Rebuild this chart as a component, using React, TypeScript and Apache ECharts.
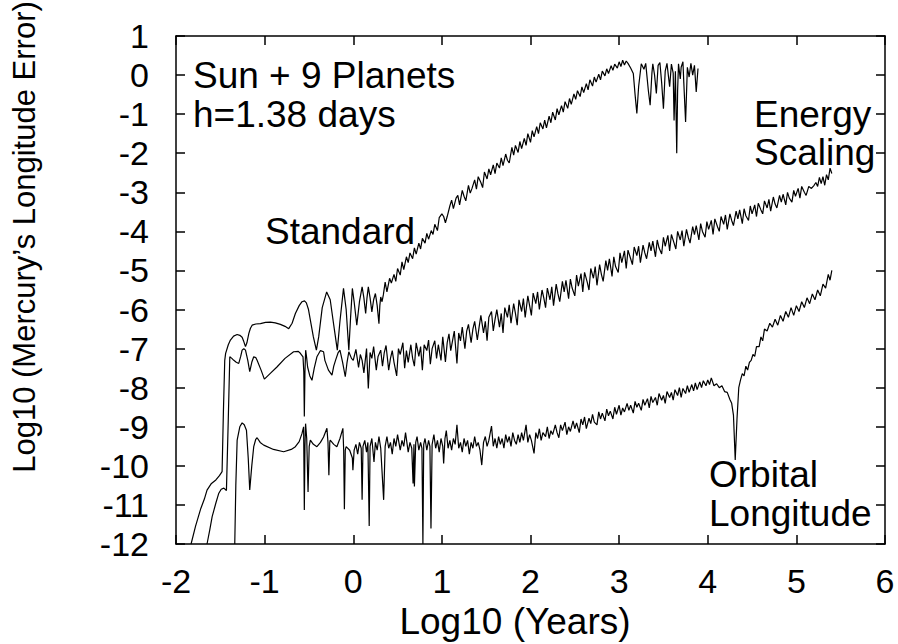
import React, { useEffect, useRef } from "react";
import * as echarts from "echarts";

const FONT = '"Liberation Sans", Arial, Helvetica, sans-serif';

const xRange = [-2, 6];
const yRange = [-12, 1];

const standard: [number, number][] = [
  [-1.83, -12.0], [-1.78, -11.55], [-1.72, -11.09], [-1.68, -10.85], [-1.65, -10.62], [-1.6, -10.45],
  [-1.55, -10.36], [-1.51, -10.25], [-1.48, -10.15], [-1.465, -8.6], [-1.45, -7.3], [-1.44, -7.12],
  [-1.41, -6.9], [-1.386, -6.78], [-1.35, -6.68], [-1.31, -6.64], [-1.28, -6.66], [-1.254, -6.71],
  [-1.235, -6.82], [-1.216, -6.95], [-1.2, -6.85], [-1.178, -6.61], [-1.16, -6.48], [-1.141, -6.4],
  [-1.1, -6.37], [-1.047, -6.36], [-0.99, -6.33], [-0.935, -6.32], [-0.88, -6.34], [-0.822, -6.38],
  [-0.77, -6.43], [-0.728, -6.49], [-0.69, -6.35], [-0.653, -6.1], [-0.61, -5.9], [-0.578, -5.8],
  [-0.55, -5.78], [-0.529, -5.83], [-0.505, -6.0], [-0.484, -6.27], [-0.45, -6.7], [-0.416, -7.04],
  [-0.39, -6.7], [-0.35, -5.95], [-0.3, -5.55], [-0.26, -5.75], [-0.22, -6.4], [-0.18, -7.04],
  [-0.15, -6.3], [-0.11, -5.46], [-0.08, -6.0], [-0.05, -7.04], [-0.03, -6.2], [-0.01, -5.46],
  [0.01, -5.8], [0.04, -6.4], [0.07, -5.8], [0.1, -5.42], [0.12, -5.7], [0.14, -6.1], [0.155, -5.7],
  [0.17, -5.42], [0.19, -5.7], [0.21, -6.06], [0.23, -5.75], [0.25, -5.59], [0.27, -5.9], [0.29, -6.36],
  [0.3, -5.9], [0.31, -5.68], [0.325, -5.8], [0.34, -5.62], [0.36, -5.3], [0.38, -5.55], [0.41, -5.2],
  [0.43, -5.32], [0.46, -5.1], [0.48, -5.28], [0.5, -4.95], [0.53, -5.12], [0.55, -4.78], [0.57, -4.98],
  [0.6, -4.65], [0.62, -4.8], [0.64, -4.55], [0.67, -4.7], [0.69, -4.42], [0.71, -4.58], [0.74, -4.3],
  [0.76, -4.45], [0.78, -4.18], [0.81, -4.3], [0.83, -4.05], [0.85, -4.2], [0.88, -3.98], [0.9, -4.08],
  [0.92, -3.82], [0.95, -3.98], [0.97, -3.65], [1.0, -3.55], [1.02, -3.62], [1.04, -3.78], [1.06, -3.62],
  [1.09, -3.35], [1.11, -3.2], [1.13, -3.42], [1.16, -3.15], [1.18, -3.08], [1.2, -3.32], [1.23, -2.95],
  [1.25, -3.1], [1.27, -3.22], [1.3, -2.82], [1.32, -3.02], [1.34, -2.9], [1.37, -2.68], [1.39, -2.92],
  [1.41, -2.6], [1.44, -2.75], [1.46, -2.88], [1.48, -2.48], [1.51, -2.66], [1.53, -2.4], [1.55, -2.55],
  [1.58, -2.3], [1.6, -2.52], [1.62, -2.25], [1.65, -2.38], [1.67, -2.12], [1.69, -2.32], [1.72, -2.02],
  [1.74, -2.18], [1.76, -2.25], [1.79, -1.85], [1.81, -2.05], [1.83, -1.8], [1.86, -1.98], [1.88, -1.7],
  [1.9, -1.88], [1.93, -1.62], [1.95, -1.8], [1.97, -1.5], [2.0, -1.72], [2.02, -1.42], [2.04, -1.58],
  [2.07, -1.32], [2.09, -1.5], [2.11, -1.22], [2.14, -1.38], [2.16, -1.15], [2.18, -1.35], [2.21, -1.05],
  [2.23, -1.22], [2.25, -0.95], [2.28, -1.15], [2.3, -0.86], [2.32, -1.02], [2.35, -0.78], [2.37, -0.95],
  [2.39, -0.68], [2.42, -0.85], [2.44, -0.6], [2.46, -0.75], [2.49, -0.48], [2.51, -0.62], [2.53, -0.4],
  [2.56, -0.55], [2.58, -0.3], [2.6, -0.45], [2.63, -0.22], [2.65, -0.38], [2.67, -0.12], [2.7, -0.28],
  [2.72, -0.05], [2.74, -0.18], [2.77, 0.02], [2.79, -0.12], [2.81, 0.1], [2.84, -0.02], [2.86, 0.16],
  [2.88, 0.04], [2.91, 0.24], [2.93, 0.12], [2.95, 0.28], [2.98, 0.18], [3.0, 0.34], [3.02, 0.22],
  [3.04, 0.38], [3.06, 0.26], [3.08, 0.36], [3.1, 0.3], [3.13, 0.18], [3.16, 0.04], [3.18, -0.5],
  [3.2, -0.98], [3.22, -0.3], [3.25, 0.29], [3.28, 0.15], [3.3, 0.3], [3.33, -0.4], [3.35, -0.77],
  [3.37, 0.05], [3.38, 0.29], [3.4, 0.0], [3.42, -0.47], [3.44, 0.25], [3.46, 0.32], [3.48, -0.2],
  [3.5, -0.86], [3.52, 0.1], [3.54, 0.3], [3.57, -0.3], [3.59, 0.28], [3.61, 0.05], [3.62, -1.16],
  [3.635, 0.1], [3.65, -2.0], [3.66, -0.4], [3.67, 0.29], [3.69, -0.1], [3.7, 0.2], [3.72, 0.34],
  [3.73, -0.2], [3.75, -1.2], [3.77, 0.2], [3.79, -0.05], [3.81, 0.3], [3.83, 0.0], [3.85, 0.25],
  [3.87, -0.43], [3.89, 0.17],
];

const energy: [number, number][] = [
  [-1.65, -12.0], [-1.62, -11.65], [-1.592, -11.3], [-1.55, -10.95], [-1.517, -10.7], [-1.49, -10.6],
  [-1.46, -10.57], [-1.431, -10.63], [-1.41, -8.8], [-1.393, -7.21], [-1.37, -7.25], [-1.348, -7.3],
  [-1.32, -7.35], [-1.292, -7.38], [-1.27, -7.2], [-1.254, -7.04], [-1.235, -7.0], [-1.216, -7.04],
  [-1.19, -7.3], [-1.168, -7.59], [-1.145, -7.35], [-1.123, -7.21], [-1.1, -7.23], [-1.085, -7.3],
  [-1.04, -7.55], [-1.003, -7.78], [-0.93, -7.62], [-0.861, -7.47], [-0.77, -7.25], [-0.673, -7.08],
  [-0.62, -7.07], [-0.597, -7.12], [-0.567, -7.21], [-0.558, -7.6], [-0.552, -8.74], [-0.545, -7.6],
  [-0.537, -7.04], [-0.525, -7.25], [-0.515, -7.47], [-0.49, -7.7], [-0.466, -7.81], [-0.44, -7.5],
  [-0.41, -7.21], [-0.37, -7.05], [-0.335, -7.08], [-0.32, -7.3], [-0.28, -7.55], [-0.24, -7.68],
  [-0.22, -7.45], [-0.2, -7.3], [-0.17, -7.1], [-0.15, -7.04], [-0.12, -7.35], [-0.09, -7.72],
  [-0.07, -7.35], [-0.05, -7.08], [-0.02, -7.25], [0.0, -7.3], [0.03, -7.02], [0.06, -7.48], [0.08, -7.15],
  [0.1, -7.3], [0.12, -7.62], [0.15, -7.0], [0.17, -8.02], [0.19, -7.1], [0.21, -7.25], [0.23, -6.95],
  [0.26, -7.55], [0.28, -7.2], [0.31, -7.04], [0.33, -7.45], [0.35, -7.1], [0.37, -6.92], [0.4, -7.55],
  [0.42, -7.25], [0.44, -7.05], [0.46, -7.35], [0.49, -7.7], [0.51, -7.0], [0.53, -7.15], [0.56, -6.85],
  [0.58, -7.5], [0.6, -7.05], [0.62, -7.35], [0.65, -6.9], [0.67, -7.25], [0.69, -7.45], [0.71, -6.85],
  [0.74, -7.2], [0.76, -6.95], [0.78, -7.55], [0.8, -6.9], [0.83, -7.05], [0.85, -6.78], [0.87, -7.4],
  [0.89, -7.0], [0.92, -6.8], [0.94, -7.25], [0.96, -6.9], [0.99, -7.3], [1.01, -6.7], [1.04, -7.34],
  [1.06, -6.85], [1.08, -6.62], [1.1, -7.05], [1.12, -6.8], [1.14, -6.55], [1.17, -7.38], [1.19, -6.6],
  [1.21, -6.8], [1.23, -6.45], [1.26, -7.0], [1.28, -6.55], [1.3, -6.38], [1.33, -6.85], [1.35, -6.5],
  [1.37, -6.3], [1.4, -6.78], [1.42, -6.45], [1.44, -6.15], [1.47, -6.6], [1.49, -6.3], [1.51, -6.8],
  [1.53, -6.2], [1.56, -6.05], [1.58, -6.55], [1.6, -6.25], [1.62, -6.0], [1.65, -6.45], [1.67, -6.1],
  [1.69, -6.6], [1.71, -5.95], [1.74, -6.2], [1.76, -5.88], [1.78, -6.35], [1.81, -5.85], [1.83, -6.1],
  [1.85, -6.4], [1.87, -5.75], [1.9, -6.05], [1.92, -5.72], [1.94, -6.2], [1.97, -5.65], [1.99, -5.9],
  [2.01, -6.15], [2.03, -5.58], [2.06, -5.85], [2.08, -5.55], [2.1, -6.0], [2.13, -5.5], [2.15, -5.7],
  [2.17, -5.95], [2.19, -5.45], [2.22, -5.75], [2.24, -5.42], [2.26, -5.9], [2.29, -5.35], [2.31, -5.6],
  [2.33, -5.8], [2.36, -5.28], [2.38, -5.55], [2.4, -5.25], [2.43, -5.72], [2.45, -5.22], [2.47, -5.45],
  [2.5, -5.65], [2.52, -5.12], [2.54, -5.4], [2.57, -5.08], [2.59, -5.55], [2.61, -5.05], [2.64, -5.3],
  [2.66, -5.5], [2.68, -4.95], [2.71, -5.2], [2.73, -4.9], [2.75, -5.38], [2.78, -4.85], [2.8, -5.1],
  [2.82, -5.28], [2.85, -4.75], [2.87, -5.0], [2.89, -4.7], [2.92, -5.15], [2.94, -4.65], [2.96, -4.9],
  [2.99, -5.05], [3.01, -4.55], [3.03, -4.8], [3.06, -4.5], [3.08, -4.95], [3.1, -4.48], [3.13, -4.7],
  [3.15, -4.85], [3.17, -4.4], [3.2, -4.62], [3.22, -4.38], [3.24, -4.8], [3.27, -4.35], [3.29, -4.55],
  [3.31, -4.7], [3.34, -4.28], [3.36, -4.5], [3.38, -4.25], [3.41, -4.65], [3.43, -4.22], [3.45, -4.42],
  [3.48, -4.58], [3.5, -4.15], [3.52, -4.38], [3.55, -4.1], [3.57, -4.5], [3.59, -4.08], [3.62, -4.3],
  [3.64, -4.45], [3.66, -4.0], [3.69, -4.22], [3.71, -3.98], [3.73, -4.38], [3.76, -3.95], [3.78, -4.15],
  [3.8, -4.3], [3.83, -3.88], [3.85, -4.08], [3.87, -3.85], [3.9, -4.22], [3.92, -3.8], [3.94, -4.0],
  [3.97, -4.15], [3.99, -3.75], [4.01, -3.95], [4.04, -3.72], [4.06, -4.08], [4.08, -3.68], [4.11, -3.88],
  [4.13, -4.0], [4.15, -3.62], [4.18, -3.82], [4.2, -3.58], [4.22, -3.95], [4.25, -3.55], [4.27, -3.72],
  [4.29, -3.85], [4.32, -3.48], [4.34, -3.68], [4.36, -3.45], [4.39, -3.8], [4.41, -3.42], [4.43, -3.6],
  [4.46, -3.72], [4.48, -3.35], [4.5, -3.55], [4.53, -3.32], [4.55, -3.62], [4.57, -3.28], [4.6, -3.45],
  [4.62, -3.55], [4.64, -3.22], [4.67, -3.4], [4.69, -3.18], [4.71, -3.48], [4.74, -3.12], [4.76, -3.3],
  [4.78, -3.4], [4.81, -3.08], [4.83, -3.25], [4.85, -3.05], [4.88, -3.32], [4.9, -3.0], [4.92, -3.15],
  [4.95, -3.25], [4.97, -2.95], [4.99, -3.1], [5.02, -2.9], [5.04, -3.15], [5.06, -2.85], [5.09, -3.0],
  [5.11, -3.08], [5.14, -2.85], [5.17, -2.9], [5.2, -2.82], [5.22, -2.75], [5.24, -2.85], [5.26, -2.62],
  [5.28, -2.78], [5.3, -2.6], [5.32, -2.82], [5.34, -2.55], [5.36, -2.68], [5.38, -2.38], [5.4, -2.52],
];

const orbital: [number, number][] = [
  [-1.337, -12.0], [-1.325, -10.5], [-1.31, -9.34], [-1.28, -9.0], [-1.254, -8.9], [-1.23, -8.95],
  [-1.205, -9.09], [-1.185, -9.8], [-1.168, -10.62], [-1.145, -10.0], [-1.123, -9.51], [-1.1, -9.32],
  [-1.085, -9.28], [-1.05, -9.4], [-1.01, -9.47], [-0.9, -9.58], [-0.785, -9.64], [-0.7, -9.58],
  [-0.653, -9.51], [-0.61, -9.38], [-0.578, -9.17], [-0.56, -9.0], [-0.552, -11.13], [-0.545, -9.5],
  [-0.538, -8.92], [-0.525, -9.3], [-0.51, -10.67], [-0.497, -9.5], [-0.484, -9.34], [-0.45, -9.45],
  [-0.41, -9.51], [-0.37, -9.4], [-0.335, -9.26], [-0.297, -9.04], [-0.285, -9.4], [-0.275, -10.24],
  [-0.265, -9.4], [-0.26, -9.34], [-0.22, -9.45], [-0.185, -9.51], [-0.15, -9.3], [-0.117, -9.04],
  [-0.108, -9.6], [-0.1, -11.11], [-0.09, -9.6], [-0.08, -9.51], [-0.04, -9.6], [-0.01, -9.8],
  [-0.004, -10.11], [0.01, -9.6], [0.03, -9.45], [0.05, -9.7], [0.07, -9.4], [0.09, -9.55], [0.1, -10.87],
  [0.11, -9.5], [0.13, -9.35], [0.15, -9.65], [0.165, -9.4], [0.18, -11.54], [0.19, -9.5], [0.21, -9.3],
  [0.234, -9.9], [0.25, -9.4], [0.27, -9.6], [0.29, -9.25], [0.31, -9.55], [0.343, -10.87], [0.36, -9.5],
  [0.38, -9.25], [0.4, -9.55], [0.42, -9.4], [0.44, -9.7], [0.46, -9.3], [0.48, -9.5], [0.5, -9.2],
  [0.53, -9.6], [0.55, -9.35], [0.57, -9.5], [0.59, -9.15], [0.62, -9.65], [0.64, -9.4], [0.66, -9.55],
  [0.675, -10.45], [0.685, -9.45], [0.69, -10.53], [0.705, -9.4], [0.72, -9.25], [0.74, -9.6],
  [0.76, -9.4], [0.775, -9.55], [0.786, -12.0], [0.795, -9.45], [0.81, -9.3], [0.83, -9.6], [0.85, -9.35],
  [0.865, -9.5], [0.877, -11.6], [0.89, -9.45], [0.91, -9.2], [0.93, -9.55], [0.95, -9.35], [0.97, -9.65],
  [0.99, -9.3], [1.01, -9.5], [1.02, -9.94], [1.035, -9.3], [1.05, -9.1], [1.07, -9.55], [1.09, -9.35],
  [1.11, -9.6], [1.13, -9.3], [1.15, -9.45], [1.17, -8.95], [1.19, -9.55], [1.21, -9.4], [1.23, -9.65],
  [1.25, -9.3], [1.27, -9.5], [1.29, -9.35], [1.31, -9.7], [1.33, -9.4], [1.35, -9.55], [1.37, -9.25],
  [1.39, -9.5], [1.41, -9.4], [1.43, -9.6], [1.45, -9.98], [1.47, -9.4], [1.49, -9.25], [1.51, -9.5],
  [1.53, -9.35], [1.56, -8.98], [1.58, -9.5], [1.6, -9.3], [1.62, -9.55], [1.64, -9.25], [1.66, -9.45],
  [1.68, -9.3], [1.7, -9.55], [1.72, -9.2], [1.74, -9.4], [1.76, -9.25], [1.78, -9.5], [1.8, -9.15],
  [1.82, -9.35], [1.84, -9.45], [1.86, -9.2], [1.88, -9.4], [1.9, -9.15], [1.92, -9.35], [1.95, -8.95],
  [1.97, -9.4], [1.99, -9.2], [2.01, -9.35], [2.04, -9.68], [2.06, -9.15], [2.08, -9.3], [2.1, -9.05],
  [2.12, -9.35], [2.14, -9.15], [2.17, -9.25], [2.19, -9.0], [2.21, -9.3], [2.23, -9.1], [2.25, -9.2],
  [2.28, -8.95], [2.3, -9.15], [2.32, -9.28], [2.34, -8.95], [2.36, -9.1], [2.39, -8.88], [2.41, -9.2],
  [2.43, -9.0], [2.45, -9.12], [2.48, -8.85], [2.5, -9.05], [2.52, -8.9], [2.55, -9.15], [2.57, -8.8],
  [2.59, -8.95], [2.61, -8.75], [2.63, -9.05], [2.66, -8.78], [2.68, -8.92], [2.7, -8.68], [2.72, -8.88],
  [2.75, -8.95], [2.77, -8.62], [2.79, -8.8], [2.81, -8.65], [2.84, -8.85], [2.86, -8.55], [2.88, -8.72],
  [2.9, -8.6], [2.93, -8.8], [2.95, -8.5], [2.97, -8.68], [3.0, -8.45], [3.02, -8.7], [3.04, -8.52],
  [3.06, -8.62], [3.09, -8.4], [3.11, -8.58], [3.13, -8.45], [3.16, -8.65], [3.18, -8.35], [3.2, -8.5],
  [3.22, -8.4], [3.25, -8.58], [3.27, -8.3], [3.29, -8.45], [3.32, -8.28], [3.34, -8.52], [3.36, -8.22],
  [3.38, -8.38], [3.41, -8.25], [3.43, -8.45], [3.45, -8.15], [3.48, -8.32], [3.5, -8.2], [3.52, -8.4],
  [3.54, -8.1], [3.57, -8.25], [3.59, -8.12], [3.61, -8.32], [3.63, -8.05], [3.66, -8.2], [3.68, -8.0],
  [3.7, -8.25], [3.72, -8.02], [3.75, -8.15], [3.77, -7.95], [3.79, -8.12], [3.82, -7.92], [3.84, -8.08],
  [3.86, -7.88], [3.88, -8.05], [3.91, -7.85], [3.93, -8.0], [3.95, -7.82], [3.98, -7.95], [4.0, -7.8],
  [4.02, -7.92], [4.04, -7.75], [4.07, -7.95], [4.1, -7.9], [4.13, -8.0], [4.16, -7.95], [4.19, -8.1],
  [4.22, -8.12], [4.25, -8.3], [4.27, -8.4], [4.29, -8.7], [4.31, -9.85], [4.33, -8.8], [4.35, -8.0],
  [4.37, -7.8], [4.39, -7.64], [4.41, -7.7], [4.43, -7.45], [4.45, -7.55], [4.47, -7.35], [4.49, -7.3],
  [4.51, -7.15], [4.53, -7.2], [4.55, -6.95], [4.58, -6.95], [4.6, -6.7], [4.62, -6.8], [4.64, -6.5],
  [4.67, -6.55], [4.7, -6.35], [4.73, -6.45], [4.76, -6.25], [4.79, -6.4], [4.82, -6.15], [4.85, -6.3],
  [4.88, -6.05], [4.91, -6.2], [4.94, -5.95], [4.97, -6.15], [5.0, -5.9], [5.03, -6.05], [5.06, -5.8],
  [5.09, -5.95], [5.12, -5.7], [5.15, -5.85], [5.18, -5.6], [5.21, -5.75], [5.24, -5.5], [5.27, -5.65],
  [5.3, -5.35], [5.33, -5.45], [5.36, -5.1], [5.38, -5.25], [5.4, -5.0],
];

const seriesNames = ["Standard", "Energy Scaling", "Orbital Longitude"];
const titleLines = ["Sun + 9 Planets", "h=1.38 days"];
const xTitle = "Log10 (Years)";
const yTitle = "Log10 (Mercury\u2019s Longitude Error)";

export default function App() {
  const ref = useRef<HTMLDivElement>(null);
  useEffect(() => {
    document.body.style.margin = "0";
    const chart = echarts.init(ref.current!, null, { renderer: "svg" });
    const frameLine = { show: true, onZero: false, lineStyle: { color: "#000", width: 1.5 } };
    const tick = { show: true, inside: true, length: 9, lineStyle: { color: "#000", width: 1.5 } };
    const txt = (text: string, x: number, y: number, size = 37, extra: any = {}) => ({
      type: "text",
      x,
      y,
      silent: true,
      ...extra,
      style: {
        text,
        fill: "#000",
        fontSize: size,
        fontFamily: FONT,
        align: "left",
        verticalAlign: "middle",
        ...(extra.style || {}),
      },
    });
    chart.setOption({
      animation: false,
      backgroundColor: "#fff",
      grid: { left: 176, right: 13, top: 36, bottom: 100 },
      xAxis: [
        {
          type: "value", min: xRange[0], max: xRange[1], interval: 1, position: "bottom",
          axisLine: frameLine, axisTick: tick, splitLine: { show: false },
          axisLabel: { color: "#000", fontSize: 34, fontFamily: FONT, margin: 20 },
        },
        {
          type: "value", min: xRange[0], max: xRange[1], interval: 1, position: "top",
          axisLine: frameLine, axisTick: tick, splitLine: { show: false }, axisLabel: { show: false },
        },
      ],
      yAxis: [
        {
          type: "value", min: yRange[0], max: yRange[1], interval: 1, position: "left",
          axisLine: frameLine, axisTick: tick, splitLine: { show: false },
          axisLabel: { color: "#000", fontSize: 34, fontFamily: FONT, margin: 27 },
        },
        {
          type: "value", min: yRange[0], max: yRange[1], interval: 1, position: "right",
          axisLine: frameLine, axisTick: tick, splitLine: { show: false }, axisLabel: { show: false },
        },
      ],
      series: [standard, energy, orbital].map((d, i) => ({
        name: seriesNames[i],
        type: "line",
        data: d,
        xAxisIndex: 0,
        yAxisIndex: 0,
        showSymbol: false,
        symbol: "none",
        clip: true,
        lineStyle: { color: "#000", width: 1.2 },
      })),
      graphic: [
        txt(titleLines[0], 193, 75),
        txt(titleLines[1], 193, 114),
        txt(seriesNames[0], 265, 231),
        txt("Energy", 754, 114),
        txt("Scaling", 754, 152.5),
        txt("Orbital", 709, 474),
        txt("Longitude", 709, 513),
        txt(xTitle, 515, 621, 37, { style: { align: "center" } }),
        txt(yTitle, 24, 237, 31, { rotation: Math.PI / 2, style: { align: "center" } }),
      ],
    });
    return () => chart.dispose();
  }, []);
  return <div ref={ref} style={{ width: 898, height: 644 }} />;
}
